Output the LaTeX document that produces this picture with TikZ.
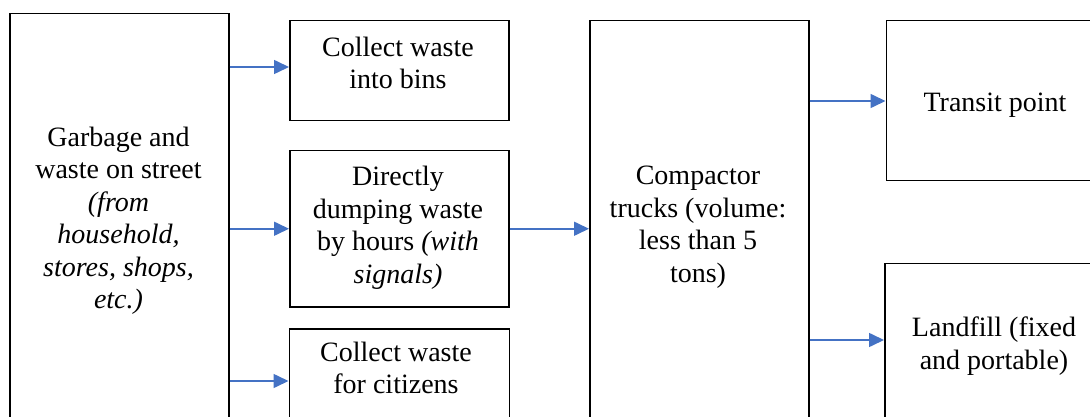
\documentclass[tikz,border=0pt]{standalone}
\usepackage{fontspec}
\setmainfont{LiberationSerif-Regular.ttf}[ItalicFont=LiberationSerif-Italic.ttf, BoldFont=LiberationSerif-Bold.ttf]
\usetikzlibrary{arrows.meta,calc}
\definecolor{flowblue}{HTML}{4472C4}
\begin{document}
\begin{tikzpicture}[x=1pt,y=-1pt,
  box/.style={draw=black, line width=1.5pt, inner sep=0pt, anchor=north west},
  txt/.style={align=center, inner sep=0pt, font=\fontsize{28}{32.5}\selectfont},
  flow/.style={draw=flowblue, line width=1.6pt, -{Triangle[length=15pt,width=14pt]}}]
\useasboundingbox (0,0) rectangle (1090,417);
\clip (0,0) rectangle (1090,417);

% frames
\node[box, minimum width=219pt, minimum height=440pt] (street)    at (9,13)      {};
\node[box, minimum width=219pt, minimum height=100pt] (bins)      at (289,20)    {};
\node[box, minimum width=219pt, minimum height=156pt] (dumping)   at (289,150)   {};
\node[box, minimum width=220pt, minimum height=110pt] (citizens)  at (288.5,328) {};
\node[box, minimum width=219pt, minimum height=430pt] (compactor) at (589,20)    {};
\node[box, minimum width=230pt, minimum height=160pt] (transit)   at (885.5,20)  {};
\node[box, minimum width=230pt, minimum height=180pt] (landfill)  at (884,262.5) {};

% labels
\node[txt] (streetT) at (118.5,221) {Garbage and\\waste on street\\\textit{(from}\\\textit{household,}\\\textit{stores, shops,}\\\textit{etc.)}};
\node[txt] (binsT) at (398,63) {Collect waste\\into bins};
\node[txt] (dumpingT) at (398,228) {Directly\\dumping waste\\by hours \textit{(with}\\\textit{signals)}};
\node[txt] (citizensT) at (396,368) {Collect waste\\for citizens};
\node[txt] (compactorT) at (698,227) {Compactor\\trucks (volume:\\less than 5\\tons)};
\node[txt] (transitT) at (995,105) {Transit point};
\node[txt] (landfillT) at (994,346) {Landfill (fixed\\and portable)};

% entry points on the frames
\coordinate (binsIn) at ($(bins.north west)+(0,47)$);
\coordinate (citizensIn) at ($(citizens.north west)+(0,53)$);
\coordinate (transitIn) at ($(transit.north west)+(0,81)$);
\coordinate (landfillIn) at ($(landfill.north west)+(0,77.5)$);

% connectors
\draw[flow] (street.east |- binsIn) -- (binsIn);
\draw[flow] (street.east |- dumping.west) -- (dumping.west);
\draw[flow] (street.east |- citizensIn) -- (citizensIn);
\draw[flow] (dumping.east) -- (dumping.east -| compactor.west);
\draw[flow] (compactor.east |- transitIn) -- (transitIn);
\draw[flow] (compactor.east |- landfillIn) -- (landfillIn);
\end{tikzpicture}
\end{document}
